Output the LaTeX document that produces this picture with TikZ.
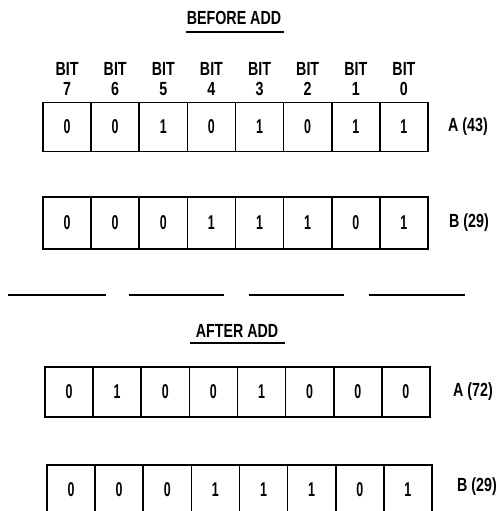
\documentclass[tikz,border=0pt]{standalone}
\usepackage{fontspec}
\setmainfont{Liberation Sans}[FakeStretch=0.75]
\newfontfamily\celldigits{Liberation Sans}[FakeStretch=0.62]
\begin{document}
\begin{tikzpicture}[x=1pt,y=-1pt,
  every node/.style={font=\fontsize{19}{20}\selectfont\bfseries, inner sep=0pt},
  cell/.style={draw, line width=1.5pt, minimum width=48.1pt,
    font=\fontsize{20}{20}\selectfont\celldigits\bfseries},
  rule/.style={line width=1.3pt},
  lbl/.style={anchor=base}]
\useasboundingbox (0,0) rectangle (496,511);
% titles
\node[lbl] (t1) at (234,25) {BEFORE ADD};
\draw[rule] (186,32) -- (284,32);
\node[lbl] (t2) at (237,337) {AFTER ADD};
\draw[rule] (190,343) -- (285,343);
% bit labels
\foreach \b [count=\i from 0] in {7,6,5,4,3,2,1,0}{
  \node[lbl] (bit\i) at ({43+48.125*(\i+0.5)},75) {BIT};
  \node[lbl] (bitn\i) at ({43+48.125*(\i+0.5)},95) {\b};
}
% row A before
\foreach \v [count=\i from 0] in {0,0,1,0,1,0,1,1}
  \node[cell, minimum height=49pt] (a1\i) at ({43+48.125*(\i+0.5)},127) {\v};
\node (la1) at (468,127) {A (43)};
% row B before
\foreach \v [count=\i from 0] in {0,0,0,1,1,1,0,1}
  \node[cell, minimum height=52pt] (b1\i) at ({43+48.125*(\i+0.5)},223) {\v};
\node (lb1) at (469,223) {B (29)};
% dashes
\draw[rule] (8,295) -- (106,295);
\draw[rule] (129,295) -- (224,295);
\draw[rule] (249,295) -- (344,295);
\draw[rule] (369,295) -- (465,295);
% row A after
\foreach \v [count=\i from 0] in {0,1,0,0,1,0,0,0}
  \node[cell, minimum height=50pt] (a2\i) at ({45+48.125*(\i+0.5)},392) {\v};
\node (la2) at (473,392) {A (72)};
% row B after
\foreach \v [count=\i from 0] in {0,0,0,1,1,1,0,1}
  \node[cell, minimum height=49pt] (b2\i) at ({47+48.125*(\i+0.5)},489.5) {\v};
\node (lb2) at (477,487) {B (29)};
\end{tikzpicture}
\end{document}
